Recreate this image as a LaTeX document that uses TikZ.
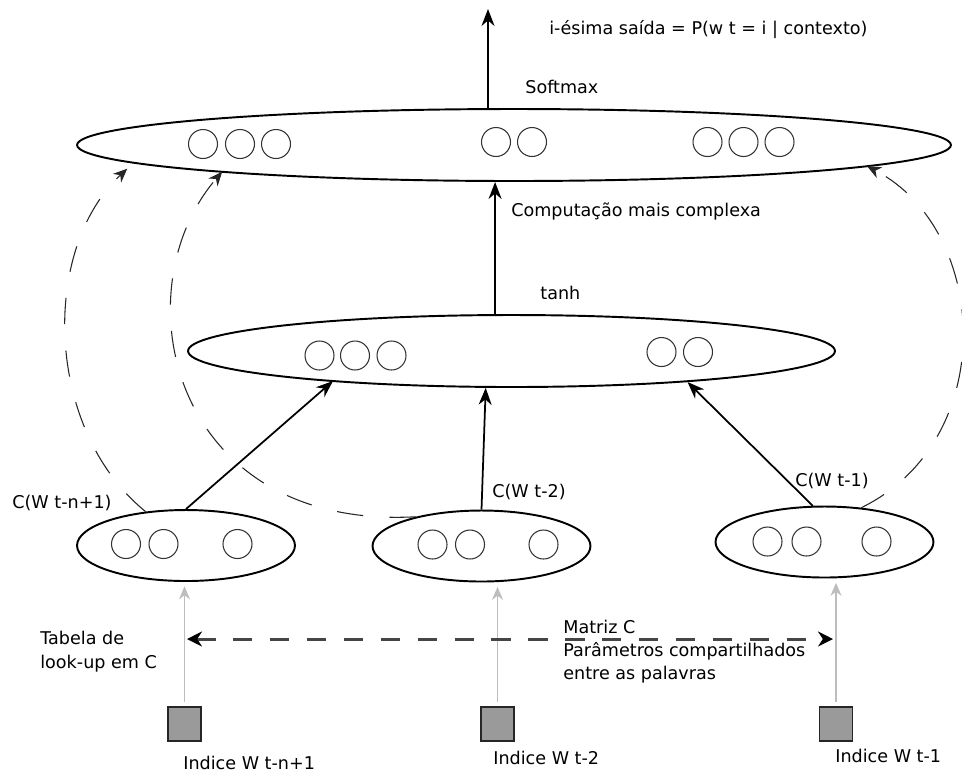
\documentclass[tikz,border=0pt]{standalone}
\usepackage{fontspec}
\setmainfont{DejaVu Sans}
\usepackage{tikz}
\usetikzlibrary{arrows.meta,positioning,calc,shapes.geometric}
\definecolor{idxFill}{HTML}{9A9A9A}
\definecolor{lookGray}{HTML}{BDBDBD}
\definecolor{shareGray}{HTML}{454545}
\tikzset{
  layer/.style={draw, ellipse, line width=1.1pt, inner sep=0pt},
  unit/.style={circle, draw=black!80, line width=0.6pt, minimum size=0.58cm, inner sep=0pt},
  idx/.style={draw=black!85, fill=idxFill, line width=0.8pt, minimum width=0.66cm, minimum height=0.68cm, inner sep=0pt},
  lab/.style={font=\fontsize{10}{13}\selectfont, inner sep=0pt, align=left},
}

\begin{document}
\begin{tikzpicture}[x=0.02cm, y=-0.02cm,
  feed/.style={line width=1pt, -{Stealth[length=3.4mm, width=2.6mm]}},
  look/.style={lookGray, line width=0.8pt, -{Stealth[length=2.6mm, width=2.2mm]}},
  share/.style={shareGray, line width=1.7pt, dash pattern=on 11pt off 10pt,
    {Stealth[length=3mm, width=3mm, black]}-{Stealth[length=3mm, width=3mm, black]}},
  ctx/.style={black!85, line width=0.6pt, dash pattern=on 15pt off 15pt, -{Stealth[length=2.8mm, width=2.4mm]}}]
\useasboundingbox[fill=white] (0,0) rectangle (962,772);
% layers
\node[layer, minimum width=17.48cm, minimum height=1.44cm] (sm) at (514,145) {};
\node[layer, minimum width=12.94cm, minimum height=1.44cm] (th) at (511.5,351) {};
\foreach \n/\x/\y in {c1/186/545.5, c2/481.5/546, c3/824.5/542}
  \node[layer, minimum width=4.36cm, minimum height=1.42cm] (\n) at (\x,\y) {};
% units
\foreach \x/\y [count=\i] in {203/144, 240/144, 276/144, 496/142, 532/142, 707.5/142, 743.5/142, 779.5/142}
  \node[unit] (sm-u\i) at (\x,\y) {};
\foreach \x/\y [count=\i] in {319.5/355.5, 355/355.5, 391.5/355.5, 661.5/352, 698/352}
  \node[unit] (th-u\i) at (\x,\y) {};
\foreach \n/\xa/\xb/\xc/\y in {c1/126/163.5/237.5/544, c2/432.5/470/543.5/544.5, c3/767.5/806.5/876.5/541.5}{
  \node[unit] (\n-u1) at (\xa,\y) {};
  \node[unit] (\n-u2) at (\xb,\y) {};
  \node[unit] (\n-u3) at (\xc,\y) {};
}
% word indices
\foreach \n/\x in {i1/184.5, i2/497.5, i3/836}
  \node[idx] (\n) at (\x,724) {};
\foreach \n/\c in {i1/c1, i2/c2, i3/c3}
  \draw[look, shorten <=2.5pt, shorten >=2.5pt] (\n.north) -- (\n.north |- \c.south);
% forward connections
\coordinate (out) at (488,9);
\draw[feed] (out |- sm.north) -- (out);
\draw[feed] (th.114.6) -- (th.114.6 |- sm.south);
\draw[feed] (c1.north) -- ($(th.center)+(123.5:323.5 and 36)$);
\draw[feed] (c2.north) -- (th.235.4);
\draw[feed] (c3.108) -- (th.350.4);
% direct connections
\draw[ctx, shorten >=5pt] (c1.140) .. controls (45,430) and (40,250) .. ($(sm.center)+(150.5:437 and 36)$);
\draw[ctx] (c2.156.5) .. controls (170,530) and (120,290) .. ($(sm.center)+(131.9:437 and 36)$);
\draw[ctx] (c3.43) .. controls (1000,440) and (990,230) .. ($(sm.center)+(36.1:437 and 36)$);
% shared matrix
\coordinate (sl) at (187,639);
\coordinate (sr) at (833,639);
\draw[share] (sl) -- (sr);
% labels
\node[lab, anchor=west] (out-lab) at (549,30) {i-ésima saída = P(w t = i | contexto)};
\node[lab, anchor=west] (sm-lab) at (525,87) {Softmax};
\node[lab, anchor=west] (comp-lab) at (511,211) {Computação mais complexa};
\node[lab, anchor=west] (th-lab) at (540,293) {tanh};
\node[lab, anchor=west] (c1-lab) at (12,503) {C(W t-n+1)};
\node[lab, anchor=west] (c2-lab) at (492,492) {C(W t-2)};
\node[lab, anchor=west] (c3-lab) at (795,481) {C(W t-1)};
\node[lab, anchor=base west, font=\fontsize{10}{13.6}\selectfont] (tab-lab) at (40,668) {Tabela de\\look-up em C};
\node[lab, anchor=base west] (mat-lab) at (563,679) {Matriz C\\Parâmetros compartilhados\\entre as palavras};
\node[lab, anchor=west] (i1-lab) at (183,763) {Indice W t-n+1};
\node[lab, anchor=west] (i2-lab) at (493,758) {Indice W t-2};
\node[lab, anchor=west] (i3-lab) at (835,756) {Indice W t-1};
\end{tikzpicture}
\end{document}
